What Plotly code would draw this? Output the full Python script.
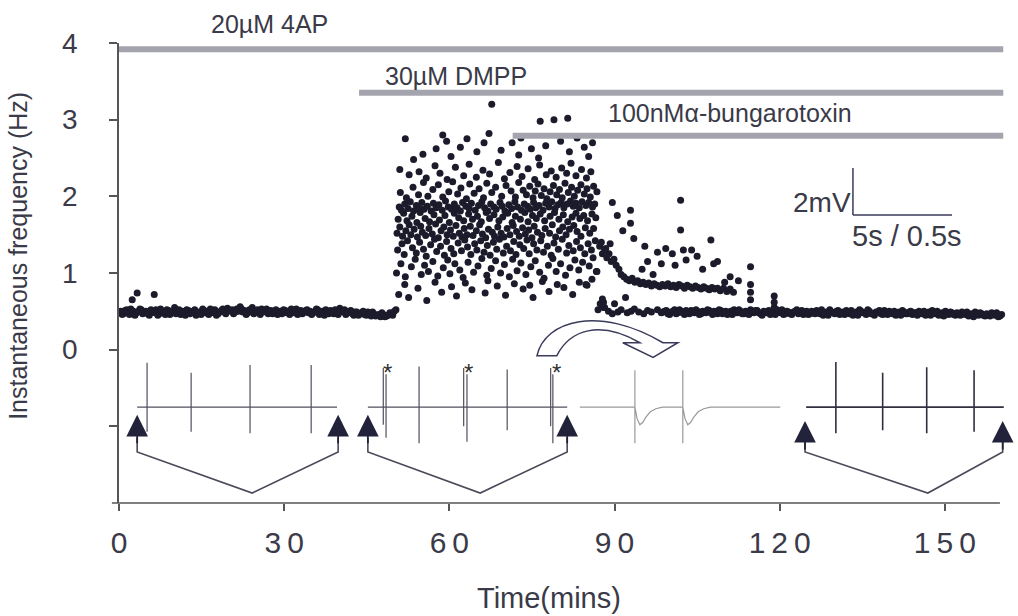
import plotly.graph_objects as go

# ---------------- data ----------------
# baseline (4AP alone): time (min), instantaneous frequency (Hz)
base_t = [0.3, 0.8, 1.4, 1.9, 2.4, 2.6, 3.2, 3.3, 3.8, 4.3, 4.9, 5.5, 6.0, 6.4, 6.7, 7.3, 7.8, 8.4, 9.0, 9.5,
          10.1, 10.6, 11.2, 11.8, 12.3, 12.9, 13.5, 14.0, 14.6, 15.2, 15.7, 16.3, 16.9, 17.4, 18.0, 18.6, 19.1,
          19.7, 20.3, 20.8, 21.4, 22.0, 22.5, 23.1, 23.7, 24.2, 24.8, 25.4, 25.9, 26.5, 27.1, 27.6, 28.2, 28.8,
          29.3, 29.9, 30.5, 31.0, 31.6, 32.2, 32.7, 33.3, 33.9, 34.4, 35.0, 35.6, 36.1, 36.7, 37.3, 37.8, 38.4,
          39.0, 39.5, 40.1, 40.7, 41.2, 41.8, 42.4, 42.9, 43.5, 44.1, 44.6, 45.2, 45.8, 46.3, 46.9, 47.5, 48.0,
          48.6, 49.2, 49.7, 50.3,
          0.55, 1.1, 1.65, 2.15, 2.9, 3.55, 4.05, 4.6, 5.25, 5.8, 6.55, 7.05, 7.55, 8.1, 8.7, 9.25, 9.8, 10.35,
          10.9, 11.5, 12.05, 12.6, 13.2, 13.75, 14.3, 14.9, 15.45, 16.0, 16.6, 17.15, 17.7, 18.3, 18.85, 19.4,
          20.0, 20.55, 21.1, 21.7, 22.25, 22.8, 23.4, 24.0, 24.5, 25.1, 25.65, 26.2, 26.8, 27.35, 27.9, 28.5,
          29.05, 29.6, 30.2, 30.75, 31.3, 31.9, 32.45, 33.0, 33.6, 34.15, 34.7, 35.3, 35.85, 36.4, 37.0, 37.55,
          38.1, 38.7, 39.25, 39.8, 40.4, 40.95, 41.5, 42.1, 42.65, 43.2, 43.8, 44.35, 44.9, 45.5, 46.05, 46.6,
          47.2, 47.75, 48.3, 48.85, 49.45, 50.0]
base_y = [0.50, 0.47, 0.52, 0.46, 0.65, 0.50, 0.48, 0.74, 0.53, 0.47, 0.50, 0.45, 0.49, 0.72, 0.52, 0.47, 0.50,
          0.46, 0.51, 0.48, 0.55, 0.50, 0.46, 0.49, 0.52, 0.47, 0.50, 0.45, 0.49, 0.53, 0.48, 0.46, 0.50, 0.52,
          0.47, 0.51, 0.49, 0.54, 0.50, 0.47, 0.53, 0.56, 0.49, 0.46, 0.52, 0.55, 0.50, 0.48, 0.53, 0.50, 0.47,
          0.51, 0.49, 0.46, 0.50, 0.52, 0.48, 0.46, 0.50, 0.53, 0.49, 0.47, 0.51, 0.48, 0.46, 0.50, 0.52, 0.48,
          0.45, 0.49, 0.51, 0.47, 0.50, 0.54, 0.49, 0.46, 0.50, 0.47, 0.49, 0.45, 0.48, 0.46, 0.49, 0.44, 0.47,
          0.45, 0.43, 0.46, 0.44, 0.48, 0.45, 0.52,
          0.46, 0.51, 0.48, 0.53, 0.45, 0.50, 0.52, 0.49, 0.47, 0.52, 0.48, 0.45, 0.53, 0.49, 0.52, 0.46, 0.50,
          0.47, 0.52, 0.50, 0.45, 0.51, 0.49, 0.52, 0.48, 0.46, 0.51, 0.50, 0.53, 0.48, 0.45, 0.49, 0.53, 0.47,
          0.51, 0.52, 0.49, 0.50, 0.53, 0.51, 0.48, 0.50, 0.47, 0.52, 0.46, 0.49, 0.53, 0.49, 0.47, 0.52, 0.48,
          0.47, 0.51, 0.50, 0.53, 0.48, 0.46, 0.51, 0.49, 0.52, 0.50, 0.48, 0.53, 0.46, 0.50, 0.52, 0.47, 0.49,
          0.52, 0.46, 0.50, 0.52, 0.48, 0.51, 0.45, 0.49, 0.47, 0.50, 0.45, 0.47, 0.49, 0.44, 0.46, 0.48, 0.43,
          0.45, 0.47, 0.50]

# DMPP response cloud (time, frequency)
cloud_t = [50.8, 51.9, 52.6, 54.3, 55.9, 57.4, 58.6, 60.4, 61.3, 62.9, 64.1, 66.5, 67.0, 68.7, 70.2, 71.8, 73.4,
           74.6, 75.2, 76.9, 78.1, 79.6, 80.8, 82.4, 83.6, 85.0,
           50.4, 51.2, 52.0, 53.1, 53.8, 54.9, 55.5, 56.2, 57.0, 57.9, 58.9, 59.7, 60.1, 61.0, 61.9, 62.5, 63.4,
           64.4, 65.2, 65.9, 66.8, 67.6, 68.4, 69.3, 70.0, 70.9, 71.5, 72.3, 73.0, 73.9, 74.8, 75.6, 76.4, 77.2,
           78.0, 78.8, 79.4, 80.2, 81.1, 81.9, 82.8, 83.5, 84.2, 85.4, 86.1, 86.7,
           50.6, 51.4, 51.8, 52.4, 53.3, 54.0, 54.6, 55.3, 55.8, 56.6, 57.3, 57.7, 58.4, 59.1, 59.5, 60.3, 60.8,
           61.6, 62.2, 62.8, 63.3, 63.9, 64.6, 65.0, 65.7, 66.3, 66.9, 67.4, 68.0, 68.6, 69.1, 69.8, 70.4, 71.1,
           71.7, 72.1, 72.8, 73.5, 74.1, 74.5, 75.3, 75.9, 76.6, 77.1, 77.8, 78.5, 79.0, 79.8, 80.5, 81.3, 81.7,
           82.5, 83.1, 83.8, 84.6, 85.2, 85.8, 86.5,
           50.5, 51.0, 51.5, 52.1, 52.7, 53.0, 53.6, 54.2, 54.8, 55.1, 55.7, 56.3, 56.9, 57.5, 58.0, 58.5, 59.0,
           59.6, 60.2, 60.7, 61.2, 61.8, 62.3, 62.7, 63.2, 63.8, 64.3, 64.9, 65.5, 66.0, 66.6, 67.1, 67.8, 68.2,
           68.8, 69.4, 69.9, 70.5, 71.0, 71.6, 72.2, 72.7, 73.3, 73.8, 74.4, 75.0, 75.4, 76.0, 76.8, 77.4, 78.2,
           78.7, 79.3, 80.0, 80.6, 81.2, 81.8, 82.6, 83.2, 83.9, 84.7, 85.5, 86.2,
           50.7, 51.7, 52.3, 53.2, 54.1, 54.7, 55.6, 56.4, 57.2, 58.2, 59.2, 60.0, 60.9, 61.7, 62.6, 63.5, 64.2,
           65.1, 65.8, 66.7, 67.3, 68.1, 69.0, 69.7, 70.6, 71.4, 72.0, 72.9, 73.7, 74.3, 75.1, 75.8, 76.5, 77.3,
           78.3, 79.1, 79.9, 80.7, 81.5, 82.3, 83.0, 83.7, 84.4, 85.1, 85.9, 86.6,
           50.9, 51.3, 51.9, 52.5, 52.9, 53.5, 54.0, 54.5, 55.0, 55.4, 56.0, 56.7, 57.1, 57.6, 58.1, 58.7, 59.3,
           59.8, 60.4, 60.9, 61.4, 62.0, 62.4, 63.0, 63.6, 64.0, 64.7, 65.3, 65.9, 66.4, 67.0, 67.5, 68.1, 68.5,
           69.2, 69.6, 70.1, 70.8, 71.3, 71.9, 72.4, 73.1, 73.6, 74.2, 74.7, 75.3, 75.7, 76.3, 77.0, 77.5, 78.1,
           78.6, 79.2, 79.7, 80.3, 80.8, 81.4, 82.0, 82.5, 83.0, 83.6, 84.1, 84.8, 85.3, 86.0, 86.4,
           51.1, 52.2, 53.4, 54.4, 55.3, 56.1, 57.0, 58.0, 58.8, 59.9, 60.6, 61.5, 62.1, 63.1, 63.7, 64.5, 65.4,
           66.2, 66.8, 67.7, 68.4, 69.5, 70.3, 71.2, 72.0, 72.6, 73.4, 74.0, 74.6, 75.2, 75.6, 76.1, 76.7, 77.2,
           77.7, 78.3, 78.9, 79.5, 80.0, 80.5, 81.0, 81.6, 82.2, 82.7, 83.3, 83.9, 84.5, 85.0, 85.6, 86.2, 86.8,
           51.0, 52.7, 54.5, 55.8, 57.4, 58.3, 59.6, 61.1, 62.6, 63.6, 64.9, 66.1, 67.3, 68.9, 70.0, 71.0, 72.3,
           73.2, 74.3, 75.5, 76.4, 77.6, 78.5, 79.4, 80.4, 81.3, 82.1, 83.0, 84.0, 84.9, 85.7,
           52.0, 53.5, 55.2, 57.6, 58.8, 59.5, 60.3, 62.0, 63.2, 65.0, 66.3, 67.2, 69.4, 71.4, 72.6, 73.0, 74.9,
           76.2, 77.5, 80.2, 81.8, 83.2, 84.5, 85.3, 86.0,
           67.7, 76.5, 79.0, 81.5]
cloud_y = [0.72, 0.85, 0.68, 0.80, 0.64, 0.88, 0.75, 0.82, 0.70, 0.87, 0.78, 0.74, 0.90, 0.83, 0.71, 0.86, 0.79,
           0.84, 0.68, 0.89, 0.76, 0.85, 0.81, 0.72, 0.88, 0.84,
           1.00, 1.12, 0.95, 1.08, 1.18, 0.98, 1.10, 1.02, 1.15, 0.96, 1.07, 1.17, 0.99, 1.12, 1.04, 0.94, 1.14,
           1.01, 1.09, 1.19, 0.97, 1.06, 1.16, 1.00, 1.11, 0.95, 1.18, 1.03, 1.13, 0.98, 1.08, 1.16, 1.01, 0.93,
           1.10, 1.19, 1.02, 1.12, 0.97, 1.07, 1.17, 1.04, 1.14, 1.09, 1.20, 1.02,
           1.30, 1.38, 1.24, 1.42, 1.33, 1.26, 1.40, 1.31, 1.22, 1.37, 1.44, 1.28, 1.35, 1.23, 1.41, 1.32, 1.25,
           1.39, 1.29, 1.43, 1.34, 1.24, 1.38, 1.30, 1.42, 1.27, 1.36, 1.23, 1.40, 1.31, 1.44, 1.26, 1.35, 1.29,
           1.41, 1.24, 1.37, 1.32, 1.43, 1.25, 1.38, 1.30, 1.42, 1.27, 1.35, 1.23, 1.39, 1.31, 1.44, 1.26, 1.36,
           1.29, 1.41, 1.33, 1.25, 1.38, 1.30, 1.42,
           1.52, 1.60, 1.48, 1.55, 1.63, 1.50, 1.57, 1.47, 1.61, 1.53, 1.49, 1.58, 1.51, 1.64, 1.46, 1.55, 1.60,
           1.50, 1.56, 1.48, 1.62, 1.52, 1.47, 1.58, 1.50, 1.61, 1.49, 1.55, 1.63, 1.51, 1.46, 1.57, 1.53, 1.48,
           1.60, 1.52, 1.47, 1.58, 1.50, 1.62, 1.54, 1.48, 1.59, 1.51, 1.56, 1.46, 1.61, 1.53, 1.49, 1.58, 1.52,
           1.63, 1.47, 1.55, 1.60, 1.50, 1.57, 1.62, 1.54, 1.48, 1.59, 1.52, 1.58,
           1.70, 1.78, 1.68, 1.74, 1.66, 1.79, 1.71, 1.67, 1.76, 1.69, 1.75, 1.66, 1.78, 1.72, 1.68, 1.77, 1.70,
           1.74, 1.67, 1.79, 1.71, 1.76, 1.68, 1.73, 1.78, 1.66, 1.74, 1.70, 1.79, 1.67, 1.75, 1.71, 1.77, 1.68,
           1.74, 1.79, 1.70, 1.76, 1.67, 1.73, 1.78, 1.71, 1.75, 1.68, 1.77, 1.72,
           1.86, 1.82, 1.90, 1.84, 1.93, 1.81, 1.88, 1.84, 1.92, 1.83, 1.87, 1.81, 1.91, 1.85, 1.89, 1.82, 1.94,
           1.86, 1.83, 1.90, 1.85, 1.81, 1.92, 1.87, 1.84, 1.91, 1.82, 1.88, 1.93, 1.85, 1.81, 1.90, 1.86, 1.83,
           1.92, 1.87, 1.81, 1.89, 1.84, 1.93, 1.86, 1.82, 1.90, 1.87, 1.83, 1.92, 1.85, 1.88, 1.82, 1.91, 1.86,
           1.93, 1.84, 1.89, 1.92, 1.85, 1.90, 1.94, 1.87, 1.91, 1.85, 1.93, 1.88, 1.92, 1.86, 1.90,
           2.05, 1.98, 2.12, 2.02, 2.18, 2.00, 2.09, 2.15, 1.99, 2.06, 2.19, 2.03, 2.11, 1.97, 2.16, 2.04, 2.10,
           1.98, 2.17, 2.05, 2.12, 2.00, 2.14, 2.07, 1.99, 2.18, 2.08, 2.02, 2.13, 1.98, 2.07, 2.16, 2.01, 2.10,
           1.97, 2.06, 2.14, 2.02, 2.09, 1.98, 2.17, 2.05, 2.12, 2.00, 2.08, 2.15, 2.03, 2.10, 1.99, 2.13, 2.06,
           2.35, 2.28, 2.32, 2.24, 2.40, 2.30, 2.22, 2.38, 2.27, 2.42, 2.25, 2.34, 2.29, 2.44, 2.23, 2.31, 2.39,
           2.26, 2.36, 2.22, 2.41, 2.28, 2.33, 2.25, 2.37, 2.30, 2.43, 2.27, 2.35, 2.24, 2.32,
           2.75, 2.48, 2.55, 2.62, 2.80, 2.72, 2.52, 2.64, 2.75, 2.58, 2.70, 2.82, 2.60, 2.70, 2.54, 2.76, 2.62,
           2.50, 2.66, 2.72, 2.58, 2.76, 2.64, 2.52, 2.70,
           3.20, 2.98, 3.00, 3.02]

# decline after alpha-bungarotoxin (upper band + scattered events)
decay_t = [87.3, 87.8, 88.2, 88.6, 89.0, 89.4, 89.9, 90.3, 90.8, 91.2, 91.7, 92.2, 92.7, 93.2, 93.7, 94.2, 94.7,
           95.2, 95.7, 96.2, 96.7, 97.2, 97.7, 98.2, 98.7, 99.2, 99.7, 100.2, 100.7, 101.2, 101.7, 102.2, 102.7,
           103.2, 103.7, 104.2, 104.7, 105.2, 105.7, 106.2, 106.7, 107.2, 107.7, 108.2, 108.7, 109.2, 109.8,
           110.4, 111.0, 111.6,
           89.6, 92.9, 92.9, 90.5, 91.5, 93.5, 95.5, 96.0, 97.8, 99.3, 100.5, 102.0, 102.0, 102.5, 103.0, 104.0,
           105.0, 107.5, 108.7, 108.0, 111.0, 112.5, 114.7, 114.7, 114.7, 114.7, 119.0, 119.0, 119.0, 88.0, 88.0,
           90.0, 92.0, 95.0, 98.5, 101.0, 106.0, 97.0, 110.0, 87.6, 88.4, 89.2, 86.8, 85.9, 84.8]
decay_y = [1.35, 1.25, 1.30, 1.20, 1.25, 1.15, 1.18, 1.10, 1.05, 0.98, 0.95, 0.92, 0.90, 0.93, 0.88, 0.90, 0.86,
           0.88, 0.85, 0.87, 0.83, 0.86, 0.84, 0.82, 0.85, 0.83, 0.86, 0.82, 0.84, 0.81, 0.85, 0.83, 0.80,
           0.84, 0.82, 0.80, 0.83, 0.81, 0.79, 0.82, 0.80, 0.78, 0.81, 0.79, 0.80, 0.77, 0.80,
           0.76, 0.79, 0.75,
           1.92, 1.82, 1.65, 1.75, 1.55, 1.45, 1.35, 1.15, 1.27, 1.32, 1.25, 1.95, 1.56, 1.30, 1.17, 1.30,
           1.22, 1.43, 1.15, 1.12, 0.95, 0.90, 1.08, 0.85, 0.75, 0.65, 0.70, 0.62, 0.55, 0.62, 0.55,
           0.60, 0.68, 1.05, 1.12, 1.10, 1.05, 0.98, 0.88, 1.40, 1.32, 1.38, 1.02, 0.92, 0.85]

# return to baseline (lower band)
late_t = [87.0, 87.4, 87.8, 88.2, 88.9, 89.6, 90.6, 91.2, 92.3, 93.0, 93.6, 94.4, 95.3, 96.0, 96.7, 97.8, 98.5,
          99.1, 99.7, 100.3, 100.9, 101.5, 102.1, 102.7, 103.3, 103.9, 104.5, 105.1, 105.7, 106.3, 106.9, 107.5,
          108.1, 108.7, 109.3, 109.9, 110.5, 111.1, 111.7, 112.3, 112.9, 113.5, 114.1, 114.7, 115.3, 115.9,
          116.5, 117.1, 117.7, 118.3, 118.9, 119.5, 120.1, 120.7, 121.3, 121.9, 122.5, 123.1, 123.7, 124.3,
          124.9, 125.5, 126.1, 126.7, 127.3, 127.9, 128.5, 129.1, 129.7, 130.3, 130.9, 131.5, 132.1, 132.7,
          133.3, 133.9, 134.5, 135.1, 135.7, 136.3, 136.9, 137.5, 138.1, 138.7, 139.3, 139.9, 140.5, 141.1,
          141.7, 142.3, 142.9, 143.5, 144.1, 144.7, 145.3, 145.9, 146.5, 147.1, 147.7, 148.3, 148.9, 149.5,
          150.1, 150.7, 151.3, 151.9, 152.5, 153.1, 153.7, 154.3, 154.9, 155.5, 156.1, 156.7, 157.3, 157.9,
          158.5, 159.1, 159.7, 160.3,
          98.8, 99.4, 100.0, 100.6, 101.2, 101.8, 102.4, 103.0, 103.6, 104.2, 104.8, 105.4, 106.0, 106.6,
          107.2, 107.8, 108.4, 109.0, 109.6, 110.2, 110.8, 111.4, 112.0, 112.6, 113.2, 113.8, 114.4, 115.0,
          115.6, 116.2, 116.8, 117.4, 118.0, 118.6, 119.2, 119.8, 120.4, 121.0, 121.6, 122.2, 122.8, 123.4,
          124.0, 124.6, 125.2, 125.8, 126.4, 127.0, 127.6, 128.2, 128.8, 129.4, 130.0, 130.6, 131.2, 131.8,
          132.4, 133.0, 133.6, 134.2, 134.8, 135.4, 136.0, 136.6, 137.2, 137.8, 138.4, 139.0, 139.6, 140.2,
          140.8, 141.4, 142.0, 142.6, 143.2, 143.8, 144.4, 145.0, 145.6, 146.2, 146.8, 147.4, 148.0, 148.6,
          149.2, 149.8, 150.4, 151.0, 151.6, 152.2, 152.8, 153.4, 154.0, 154.6, 155.2, 155.8, 156.4, 157.0,
          157.6, 158.2, 158.8, 159.4, 160.0]
late_y = [0.52, 0.60, 0.66, 0.55, 0.50, 0.47, 0.49, 0.52, 0.48, 0.50, 0.53, 0.49, 0.47, 0.51, 0.49, 0.52, 0.48,
          0.50, 0.47, 0.49, 0.52, 0.48, 0.50, 0.46, 0.49, 0.51, 0.48, 0.50, 0.47, 0.49, 0.52, 0.48,
          0.50, 0.47, 0.51, 0.49, 0.46, 0.50, 0.52, 0.48, 0.50, 0.47, 0.49, 0.52, 0.48, 0.51,
          0.47, 0.50, 0.48, 0.46, 0.50, 0.52, 0.48, 0.46, 0.50, 0.47, 0.49, 0.52, 0.48, 0.46,
          0.50, 0.47, 0.49, 0.51, 0.47, 0.45, 0.49, 0.52, 0.48, 0.50, 0.46, 0.49, 0.51, 0.47,
          0.45, 0.49, 0.52, 0.48, 0.46, 0.50, 0.47, 0.49, 0.51, 0.46, 0.48, 0.50, 0.47, 0.45,
          0.49, 0.51, 0.47, 0.49, 0.46, 0.48, 0.50, 0.47, 0.45, 0.49, 0.51, 0.47, 0.45, 0.48,
          0.50, 0.46, 0.48, 0.45, 0.47, 0.49, 0.46, 0.44, 0.47, 0.49, 0.45, 0.47, 0.44, 0.46,
          0.48, 0.45, 0.43, 0.46,
          0.49, 0.51, 0.46, 0.50, 0.47, 0.52, 0.48, 0.51, 0.47, 0.50, 0.52, 0.46, 0.50, 0.48,
          0.51, 0.46, 0.49, 0.52, 0.47, 0.50, 0.48, 0.46, 0.50, 0.52, 0.47, 0.50, 0.46, 0.49,
          0.51, 0.48, 0.45, 0.49, 0.51, 0.48, 0.46, 0.50, 0.52, 0.47, 0.49, 0.46, 0.50, 0.47,
          0.51, 0.49, 0.46, 0.50, 0.47, 0.49, 0.52, 0.47, 0.45, 0.49, 0.47, 0.51, 0.48, 0.46,
          0.49, 0.51, 0.47, 0.45, 0.50, 0.48, 0.52, 0.47, 0.45, 0.49, 0.47, 0.51, 0.46, 0.48,
          0.50, 0.47, 0.45, 0.49, 0.47, 0.50, 0.48, 0.45, 0.48, 0.50, 0.47, 0.45, 0.48, 0.50,
          0.46, 0.44, 0.47, 0.49, 0.46, 0.48, 0.45, 0.47, 0.49, 0.45, 0.43, 0.47, 0.48, 0.45,
          0.47, 0.44, 0.46, 0.48, 0.44]

# drug application bars: label, start time, level
drug_labels = ["20\u00b5M 4AP", "30\u00b5M DMPP", "100nM\u03b1-bungarotoxin"]
drug_start = [0.0, 43.6, 71.5]
drug_end = [160.6, 160.6, 160.6]
drug_level = [3.92, 3.35, 2.79]

# example recordings (inset traces, drawn in plot units)
rec_span = [(3.3, 39.6), (45.2, 81.4), (83.7, 120.1), (124.8, 160.7)]
rec_base = -0.75
rec_spikes = [[5.1, 13.1, 23.8, 34.9],
              [48.0, 48.5, 54.5, 62.6, 63.2, 70.5, 78.4, 78.8],
              [93.7, 102.4],
              [130.2, 138.7, 146.7, 155.3]]
rec_up = [[-0.17, -0.30, -0.20, -0.20],
          [-0.24, -0.32, -0.22, -0.24, -0.32, -0.26, -0.24, -0.32],
          [-0.27, -0.27],
          [-0.16, -0.30, -0.23, -0.27]]
rec_down = [[-1.07, -1.07, -1.09, -1.09],
            [-0.98, -1.15, -1.22, -1.00, -1.20, -1.05, -1.00, -1.22],
            [-1.22, -1.22],
            [-1.09, -1.05, -1.09, -1.07]]
dip_dt = [0.4, 0.9, 1.4, 2.0, 2.8, 3.8, 5.0]
dip_y = [-0.90, -0.98, -0.95, -0.88, -0.81, -0.77, -0.75]
star_t = [48.8, 63.4, 79.5]

# arrow groups: left arm, vertex, right arm times
arrow_left = [3.3, 45.2, 124.6]
arrow_vertex = [24.2, 65.6, 146.9]
arrow_right = [39.8, 81.4, 160.5]
arrow_tip = [-0.85, -0.85, -0.93]

xtick_vals = [0, 30, 60, 90, 120, 150]
xtick_text = ["0", "3\u20090", "6\u20090", "9\u20090", "1\u20092\u20090", "1\u20095\u20090"]
ytick_vals = [-1, 0, 1, 2, 3, 4]
ytick_text = ["", "0", "1", "2", "3", "4"]

# ---------------- figure ----------------
FONT = "Liberation Sans, Arial, sans-serif"
DOT = "#1b1b2b"
TXT = "#3a3a48"

fig = go.Figure()

all_t = base_t + cloud_t + decay_t + late_t
all_y = base_y + cloud_y + decay_y + late_y
fig.add_trace(go.Scatter(x=all_t, y=all_y, mode="markers",
                         marker=dict(size=7, color=DOT), hoverinfo="skip", showlegend=False))

# inset recordings
rec_colors = ["#50505e", "#50505e", "#9a9a9a", "#303040"]
rec_widths = [1.2, 1.2, 1.2, 1.6]
for i, (span, spikes, ups, downs) in enumerate(zip(rec_span, rec_spikes, rec_up, rec_down)):
    xs, ys = [span[0]], [rec_base]
    for s, u, d in zip(spikes, ups, downs):
        xs += [s, s, s, s]
        ys += [rec_base, u, d, rec_base]
        if i == 2:
            for dt, dv in zip(dip_dt, dip_y):
                xs.append(s + dt)
                ys.append(dv)
    xs.append(span[1])
    ys.append(rec_base)
    fig.add_trace(go.Scatter(x=xs, y=ys, mode="lines",
                             line=dict(color=rec_colors[i], width=rec_widths[i]),
                             hoverinfo="skip", showlegend=False))

# V-shaped pointer lines
for l, v, r in zip(arrow_left, arrow_vertex, arrow_right):
    fig.add_trace(go.Scatter(x=[l, l, v, r, r], y=[-1.15, -1.335, -1.87, -1.335, -1.15], mode="lines",
                             line=dict(color="#4a4a58", width=1.6), hoverinfo="skip",
                             showlegend=False, cliponaxis=False))

annotations = []
shapes = []

# drug bars + labels
for lab, s, e, lv in zip(drug_labels, drug_start, drug_end, drug_level):
    shapes.append(dict(type="line", xref="x", yref="y", x0=s, x1=e, y0=lv, y1=lv,
                       line=dict(color="#a4a4ae", width=6)))
annotations.append(dict(x=0.170, y=1.041, xref="paper", yref="paper", text=drug_labels[0], showarrow=False,
                        xanchor="center", yanchor="middle", font=dict(family=FONT, size=25, color=TXT)))
annotations.append(dict(x=47.9, y=3.57, xref="x", yref="y", text=drug_labels[1], showarrow=False,
                        xanchor="left", yanchor="middle", font=dict(family=FONT, size=25, color=TXT)))
annotations.append(dict(x=88.4, y=3.09, xref="x", yref="y", text=drug_labels[2], showarrow=False,
                        xanchor="left", yanchor="middle", font=dict(family=FONT, size=25, color=TXT)))

# arrowheads
for xs_ in (arrow_left, arrow_right):
    for xv, tv in zip(xs_, arrow_tip):
        annotations.append(dict(x=xv, y=tv, xref="x", yref="y", ax=0, ay=30, text="", showarrow=True,
                                arrowhead=2, arrowsize=2.4, arrowwidth=1.8, arrowcolor="#22223a"))

# asterisks
for st in star_t:
    annotations.append(dict(x=st, y=-0.30, xref="x", yref="y", text="*", showarrow=False,
                            font=dict(family=FONT, size=24, color="#333"), xanchor="center",
                            yanchor="middle"))

# scale bar
shapes.append(dict(type="line", xref="x", yref="y", x0=133.3, x1=133.3, y0=1.756, y1=2.37,
                   line=dict(color="#3a3a5a", width=1.5)))
shapes.append(dict(type="line", xref="x", yref="y", x0=133.3, x1=151.3, y0=1.756, y1=1.756,
                   line=dict(color="#3a3a5a", width=1.5)))
annotations.append(dict(x=133.4, y=1.92, xref="x", yref="y", text="2mV", showarrow=False,
                        xanchor="right", yanchor="middle", font=dict(family=FONT, size=28, color=TXT)))
annotations.append(dict(x=132.7, y=1.48, xref="x", yref="y", text="5s / 0.5s", showarrow=False,
                        xanchor="left", yanchor="middle", font=dict(family=FONT, size=29, color=TXT)))

# curved hollow arrow
shapes.append(dict(type="path", xref="x", yref="y",
                   path="M 75.9,-0.08 C 77.4,0.39 87.3,0.58 98.8,0.09 L 101.5,0.09 L 97.0,-0.10 "
                        "L 91.5,0.09 L 94.6,0.09 C 87.3,0.39 81.9,0.26 79.5,-0.08 Z",
                   line=dict(color="#3a3a5a", width=1.5), fillcolor="white"))

# x axis line (extends slightly left of the y axis)
shapes.append(dict(type="line", xref="paper", yref="paper", x0=-0.008, x1=160 / 161.1, y0=0, y1=0,
                   line=dict(color="#555", width=1.5)))

# axis titles
annotations.append(dict(x=-0.114, y=0.537, xref="paper", yref="paper", text="Instantaneous frequency (Hz)",
                        textangle=-90, showarrow=False, xanchor="center", yanchor="middle",
                        font=dict(family=FONT, size=25, color=TXT)))
annotations.append(dict(x=0.485, y=-0.2065, xref="paper", yref="paper", text="Time(mins)",
                        showarrow=False, xanchor="center", yanchor="middle",
                        font=dict(family=FONT, size=29, color=TXT)))

fig.update_layout(
    width=1018, height=616,
    margin=dict(l=119, r=12, t=43, b=113),
    paper_bgcolor="white", plot_bgcolor="white",
    shapes=shapes, annotations=annotations,
    xaxis=dict(range=[0, 161.1], showline=False, showgrid=False, zeroline=False,
               ticks="outside", ticklen=7, tickwidth=1.5, tickcolor="#555",
               tickvals=xtick_vals, ticktext=xtick_text, ticklabelstandoff=6,
               tickfont=dict(family=FONT, size=30, color=TXT)),
    yaxis=dict(range=[-2, 4], showline=True, linecolor="#555", linewidth=1.5, showgrid=False,
               zeroline=False, ticks="outside", ticklen=8, tickwidth=1.5, tickcolor="#555",
               tickvals=ytick_vals, ticktext=ytick_text, ticklabelstandoff=26,
               tickfont=dict(family=FONT, size=28, color=TXT)),
)

fig.write_html("out.html")
